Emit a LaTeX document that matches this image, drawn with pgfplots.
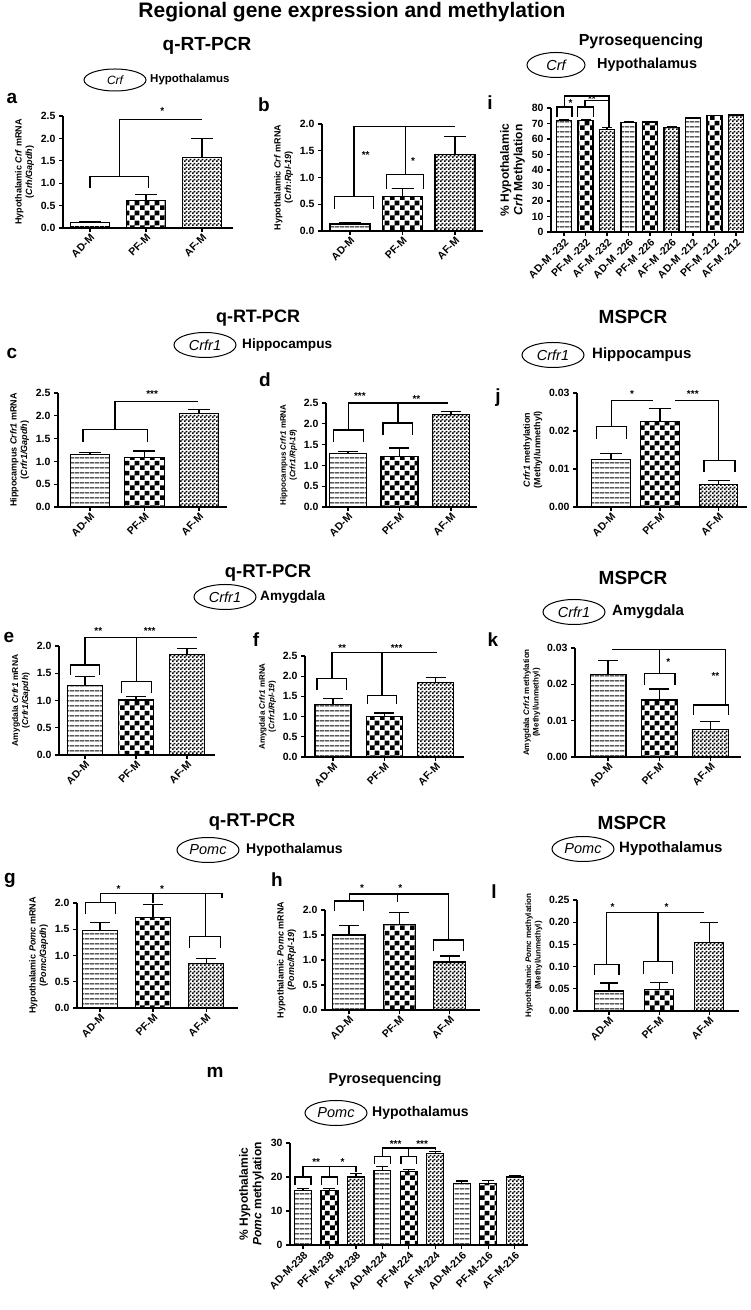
\documentclass[border=0pt]{standalone}
\usepackage{fontspec}
\setmainfont{Liberation Sans}
\usepackage{pgfplots}
\pgfplotsset{compat=1.18}
\usetikzlibrary{patterns,shapes.geometric}

\pgfdeclarepatternformonly{hlines}{\pgfqpoint{0pt}{0pt}}{\pgfqpoint{5pt}{4.6pt}}{\pgfqpoint{5pt}{4.6pt}}{\pgfpathrectangle{\pgfqpoint{0pt}{1.7pt}}{\pgfqpoint{5pt}{1.2pt}}\pgfusepath{fill}}
\pgfdeclarepatternformonly{bigcheck}{\pgfqpoint{0pt}{0pt}}{\pgfqpoint{10pt}{10pt}}{\pgfqpoint{10pt}{10pt}}{\pgfpathrectangle{\pgfqpoint{0pt}{0pt}}{\pgfqpoint{5pt}{5pt}}\pgfpathrectangle{\pgfqpoint{5pt}{5pt}}{\pgfqpoint{5pt}{5pt}}\pgfusepath{fill}}
\pgfdeclarepatternformonly{smallcheck}{\pgfqpoint{0pt}{0pt}}{\pgfqpoint{4pt}{4pt}}{\pgfqpoint{4pt}{4pt}}{\pgfpathrectangle{\pgfqpoint{0pt}{0pt}}{\pgfqpoint{2pt}{2pt}}\pgfpathrectangle{\pgfqpoint{2pt}{2pt}}{\pgfqpoint{2pt}{2pt}}\pgfusepath{fill}}

\newcommand{\xtf}{\bfseries\fontsize{10.5}{11}\selectfont}
\newcommand{\ytf}{\bfseries\fontsize{10.5}{11}\selectfont}
\newcommand{\ylf}{\bfseries\fontsize{9}{10.5}\selectfont}
\newcommand{\ylbig}{\bfseries\fontsize{12}{13.5}\selectfont}

\pgfplotsset{
 gp/.style={scale only axis, anchor=south west, axis x line*=bottom, axis y line*=left,
   ymin=0, clip=false, tick align=outside, major tick length=4pt,
   axis line style={line width=1.2pt}, every tick/.append style={line width=1.2pt, black},
   /pgf/number format/assume math mode=true,
   xticklabel style={rotate=45, anchor=north east, inner sep=1pt, font=\xtf},
   yticklabel style={font=\ytf},
   ylabel style={align=center, font=\ylf}},
 p1/.style={yticklabel style={/pgf/number format/fixed, /pgf/number format/fixed zerofill, /pgf/number format/precision=1}},
 p2/.style={yticklabel style={/pgf/number format/fixed, /pgf/number format/fixed zerofill, /pgf/number format/precision=2}},
 bars/.style={ybar, bar shift=0pt, draw=black, line width=1.2pt,
   error bars/y dir=plus, error bars/y explicit,
   error bars/error bar style={line width=1.2pt, black},
   error bars/error mark options={rotate=90, line width=1.2pt, mark size=#1, black}},
 AD/.style={pattern=hlines, bars=#1},
 PF/.style={pattern=bigcheck, bars=#1},
 AF/.style={pattern=smallcheck, bars=#1},
}
\tikzset{bk/.style={line width=1.2pt}}
\newcommand{\brk}[4]{\draw[bk] (axis cs:#1,#4) |- (axis cs:#2,#3) -- (axis cs:#2,#4);}
\newcommand{\st}[3]{\node[font=\bfseries\fontsize{10}{10}\selectfont, inner sep=0pt] at (axis cs:#1,#2) {#3};}

\begin{document}
\begin{tikzpicture}[x=1pt,y=1pt]
\path[use as bounding box, fill=white] (0pt,0pt) rectangle (751pt,1310pt);
\tikzset{
 hd/.style={font=\bfseries\fontsize{19}{20}\selectfont, inner sep=0pt},
 lb/.style={font=\bfseries\fontsize{14.5}{15}\selectfont, inner sep=0pt, anchor=west},
 el/.style={draw, ellipse, line width=1pt, minimum width=62pt, minimum height=25pt, inner sep=0pt, font=\itshape\fontsize{14.5}{15}\selectfont},
 pl/.style={font=\bfseries\fontsize{19}{20}\selectfont, inner sep=0pt}}
% headers
\node[font=\bfseries\fontsize{21}{22}\selectfont] at (352pt,1298pt) {Regional gene expression and methylation};
\node[hd] at (207pt,1264pt) {q-RT-PCR};
\node[hd, font=\bfseries\fontsize{16}{17}\selectfont] at (641pt,1269pt) {Pyrosequencing};
\node[el, minimum width=62pt, minimum height=22pt, font=\itshape\fontsize{12}{13}\selectfont] at (115pt,1230pt) {Crf};
\node[lb, font=\bfseries\fontsize{11.5}{12}\selectfont] at (150pt,1230pt) {Hypothalamus};
\node[el, minimum width=58pt] at (556pt,1245pt) {Crf};
\node[lb] at (597pt,1245pt) {Hypothalamus};
\node[pl] at (12pt,1212pt) {a};
\node[pl] at (264pt,1205pt) {b};
\node[pl] at (490pt,1207pt) {i};

\node[hd, font=\bfseries\fontsize{18}{19}\selectfont] at (258pt,992pt) {q-RT-PCR};
\node[el] at (205pt,965pt) {Crfr1};
\node[lb, font=\bfseries\fontsize{13.6}{14}\selectfont] at (242pt,965pt) {Hippocampus};
\node[hd] at (633pt,993pt) {MSPCR};
\node[el] at (553pt,955pt) {Crfr1};
\node[lb, font=\bfseries\fontsize{15}{16}\selectfont] at (592pt,955pt) {Hippocampus};
\node[pl] at (12pt,957pt) {c};
\node[pl] at (265pt,930pt) {d};
\node[pl] at (498pt,912pt) {j};

\node[hd, font=\bfseries\fontsize{18.5}{19}\selectfont] at (268pt,737pt) {q-RT-PCR};
\node[el] at (225pt,713pt) {Crfr1};
\node[lb, font=\bfseries\fontsize{13.6}{14}\selectfont] at (260pt,713pt) {Amygdala};
\node[hd] at (633pt,732pt) {MSPCR};
\node[el] at (574pt,698pt) {Crfr1};
\node[lb, font=\bfseries\fontsize{15}{16}\selectfont] at (612pt,698pt) {Amygdala};
\node[pl] at (9pt,673pt) {e};
\node[pl] at (256pt,670pt) {f};
\node[pl] at (493pt,670pt) {k};

\node[hd, font=\bfseries\fontsize{18.5}{19}\selectfont] at (252pt,488pt) {q-RT-PCR};
\node[el] at (208pt,460pt) {Pomc};
\node[lb, font=\bfseries\fontsize{14}{15}\selectfont] at (246pt,460pt) {Hypothalamus};
\node[hd] at (632pt,487pt) {MSPCR};
\node[el] at (583pt,461pt) {Pomc};
\node[lb, font=\bfseries\fontsize{15}{16}\selectfont] at (619pt,461pt) {Hypothalamus};
\node[pl] at (10pt,430pt) {g};
\node[pl] at (277pt,430pt) {h};
\node[pl] at (494pt,418pt) {l};

\node[hd, font=\bfseries\fontsize{14.5}{15}\selectfont] at (385pt,230pt) {Pyrosequencing};
\node[el] at (336pt,197pt) {Pomc};
\node[lb, font=\bfseries\fontsize{14}{15}\selectfont] at (372pt,197pt) {Hypothalamus};
\node[pl] at (215pt,238pt) {m};

% ---------- a ----------
\begin{axis}[gp, p1, at={(63pt,1082pt)}, width=170pt, height=112pt,
  xmin=-0.482, xmax=2.554, ymax=2.5, ytick={0,0.5,1,1.5,2,2.5},
  xtick={0,1,2}, xticklabels={AD-M,PF-M,AF-M}, bar width=0.71,
  ylabel={Hypothalamic \textit{Crf} mRNA\\(\textit{Crh/Gapdh})}]
\addplot[AD=11pt] coordinates {(0,0.12) +- (0,0.02)};
\addplot[PF=11pt] coordinates {(1,0.61) +- (0,0.13)};
\addplot[AF=11pt] coordinates {(2,1.57) +- (0,0.42)};
\brk{0}{1.05}{1.15}{0.9}
\draw[bk] (axis cs:0.52,1.15) |- (axis cs:2.0,2.42);
\st{1.29}{2.6}{*}
\end{axis}

% ---------- b ----------
\begin{axis}[gp, p1, at={(322pt,1079pt)}, width=161pt, height=107pt,
  xmin=-0.533, xmax=2.533, ymax=2.0, ytick={0,0.5,1,1.5,2},
  xtick={0,1,2}, xticklabels={AD-M,PF-M,AF-M}, bar width=0.76,
  ylabel={Hypothalamic \textit{Crf} mRNA\\(\textit{Crh}:\textit{Rpl-19})}]
\addplot[AD=11pt] coordinates {(0,0.13) +- (0,0.02)};
\addplot[PF=11pt] coordinates {(1,0.65) +- (0,0.15)};
\addplot[AF=11pt] coordinates {(2,1.43) +- (0,0.34)};
\brk{-0.3}{0.45}{0.65}{0.42}
\draw[bk] (axis cs:0.075,0.65) |- (axis cs:2.0,1.95);
\brk{0.7}{1.4}{1.05}{0.78}
\draw[bk] (axis cs:1.05,1.05) -- (axis cs:1.05,1.95);
\st{0.3}{1.42}{**}
\st{1.2}{1.3}{*}
\end{axis}

% ---------- i ----------
\begin{axis}[gp, at={(551pt,1078pt)}, width=192pt, height=124pt,
  xmin=-0.605, xmax=8.325, ymax=80, ytick={0,10,20,30,40,50,60,70,80},
  xtick={0,1,2,3,4,5,6,7,8},
  xticklabels={AD-M -232,PF-M -232,AF-M -232,AD-M -226,PF-M -226,AF-M -226,AD-M -212,PF-M -212,AF-M -212},
  bar width=0.7, ylabel style={font=\ylbig},
  ylabel={\% Hypothalamic\\\textit{Crh} Methylation}]
\addplot[AD=5pt] coordinates {(0,72) +- (0,0.4)};
\addplot[PF=5pt] coordinates {(1,72) +- (0,0.5)};
\addplot[AF=5pt] coordinates {(2,66) +- (0,1.5)};
\addplot[AD=5pt] coordinates {(3,70.5) +- (0,0.4)};
\addplot[PF=5pt] coordinates {(4,71) +- (0,0.4)};
\addplot[AF=5pt] coordinates {(5,67.5) +- (0,0.3)};
\addplot[AD=5pt] coordinates {(6,73.5) +- (0,0.4)};
\addplot[PF=5pt] coordinates {(7,75) +- (0,0.4)};
\addplot[AF=5pt] coordinates {(8,75.5) +- (0,0.3)};
\brk{-0.33}{0.375}{80.6}{74.2}
\draw[bk] (axis cs:0.03,80.6) -- (axis cs:0.03,87.7) -- (axis cs:2.09,87.7) -- (axis cs:2.09,68);
\brk{0.61}{1.36}{80.6}{74.2}
\draw[bk] (axis cs:0.98,80.6) -- (axis cs:0.98,84.9) -- (axis cs:2.09,84.9);
\st{0.3}{83.2}{*}
\st{1.3}{86.0}{**}
\end{axis}

% ---------- c ----------
\begin{axis}[gp, p1, at={(58pt,803pt)}, width=169pt, height=114pt,
  xmin=-0.587, xmax=2.514, ymax=2.5, ytick={0,0.5,1,1.5,2,2.5},
  xtick={0,1,2}, xticklabels={AD-M,PF-M,AF-M}, bar width=0.72,
  ylabel={Hippocampus \textit{Crfr1} mRNA\\(\textit{Crfr1/Gapdh})}]
\addplot[AD=11pt] coordinates {(0,1.15) +- (0,0.04)};
\addplot[PF=11pt] coordinates {(1,1.08) +- (0,0.15)};
\addplot[AF=11pt] coordinates {(2,2.05) +- (0,0.09)};
\brk{-0.13}{1.05}{1.70}{1.43}
\draw[bk] (axis cs:0.46,1.70) |- (axis cs:1.98,2.32);
\st{1.14}{2.48}{***}
\end{axis}

% ---------- d ----------
\begin{axis}[gp, p1, at={(326pt,803pt)}, width=151pt, height=104pt,
  xmin=-0.427, xmax=2.505, ymax=2.5, ytick={0,0.5,1,1.5,2,2.5},
  xtick={0,1,2}, xticklabels={AD-M,PF-M,AF-M}, bar width=0.72,
  ylabel style={font=\bfseries\fontsize{8}{9.5}\selectfont},
  ylabel={Hippocampus \textit{Crfr1} mRNA\\(\textit{Crfr1/Rpl-19})}]
\addplot[AD=10pt] coordinates {(0,1.28) +- (0,0.05)};
\addplot[PF=10pt] coordinates {(1,1.22) +- (0,0.2)};
\addplot[AF=10pt] coordinates {(2,2.22) +- (0,0.08)};
\brk{-0.28}{0.3}{1.85}{1.57}
\brk{0.68}{1.26}{2.02}{1.73}
\draw[bk] (axis cs:0.01,1.85) |- (axis cs:1.95,2.5);
\draw[bk] (axis cs:0.97,2.02) -- (axis cs:0.97,2.5);
\st{0.23}{2.66}{***}
\st{1.33}{2.6}{**}
\end{axis}

% ---------- j ----------
\begin{axis}[gp, p2, at={(577pt,803pt)}, width=170pt, height=114pt,
  xmin=-0.694, xmax=2.776, ymax=0.03, ytick={0,0.01,0.02,0.03},
  scaled y ticks=false,
  xtick={0,1,2.2}, xticklabels={AD-M,PF-M,AF-M}, bar width=0.78,
  ylabel={\textit{Crfr1} methylation\\(Methyl/unmethyl)}]
\addplot[AD=11pt] coordinates {(0,0.0125) +- (0,0.0015)};
\addplot[PF=11pt] coordinates {(1,0.0225) +- (0,0.0035)};
\addplot[AF=11pt] coordinates {(2.2,0.006) +- (0,0.001)};
\brk{-0.29}{0.31}{0.0211}{0.018}
\draw[bk] (axis cs:0.01,0.0211) |- (axis cs:0.86,0.0281);
\draw[bk] (axis cs:1.31,0.0281) -| (axis cs:2.2,0.0123);
\brk{1.9}{2.53}{0.0123}{0.0092}
\st{0.43}{0.0298}{*}
\st{1.67}{0.0298}{***}
\end{axis}

% ---------- e ----------
\begin{axis}[gp, p1, at={(59pt,555pt)}, width=156pt, height=109pt,
  xmin=-0.51, xmax=2.55, ymax=2.0, ytick={0,0.5,1,1.5,2},
  xtick={0,1,2}, xticklabels={AD-M,PF-M,AF-M}, bar width=0.7,
  ylabel style={font=\bfseries\fontsize{8.5}{10}\selectfont},
  ylabel={Amygdala \textit{Crfr1} mRNA\\(\textit{Crfr1/Gapdh})}]
\addplot[AD=10pt] coordinates {(0,1.28) +- (0,0.16)};
\addplot[PF=10pt] coordinates {(1,1.01) +- (0,0.07)};
\addplot[AF=10pt] coordinates {(2,1.85) +- (0,0.11)};
\brk{-0.29}{0.28}{1.65}{1.47}
\brk{0.72}{1.31}{1.35}{1.13}
\draw[bk] (axis cs:0,1.65) |- (axis cs:2.19,2.16);
\draw[bk] (axis cs:1.01,1.35) -- (axis cs:1.01,2.16);
\st{0.26}{2.28}{**}
\st{1.27}{2.28}{***}
\end{axis}

% ---------- f ----------
\begin{axis}[gp, p1, at={(305pt,553pt)}, width=159pt, height=101pt,
  xmin=-0.544, xmax=2.55, ymax=2.5, ytick={0,0.5,1,1.5,2,2.5},
  xtick={0,1,2}, xticklabels={AD-M,PF-M,AF-M}, bar width=0.7,
  ylabel style={font=\bfseries\fontsize{8}{9.5}\selectfont},
  ylabel={Amygdala \textit{Crfr1} mRNA\\(\textit{Crfr1/Rpl-19})}]
\addplot[AD=10pt] coordinates {(0,1.29) +- (0,0.16)};
\addplot[PF=10pt] coordinates {(1,1.01) +- (0,0.08)};
\addplot[AF=10pt] coordinates {(2,1.85) +- (0,0.11)};
\brk{-0.31}{0.27}{1.94}{1.65}
\brk{0.67}{1.24}{1.53}{1.3}
\draw[bk] (axis cs:-0.02,1.94) |- (axis cs:2.02,2.58);
\draw[bk] (axis cs:0.955,1.53) -- (axis cs:0.955,2.58);
\st{0.18}{2.7}{**}
\st{1.24}{2.7}{***}
\end{axis}

% ---------- k ----------
\begin{axis}[gp, p2, at={(575pt,553pt)}, width=166pt, height=109pt,
  xmin=-0.647, xmax=2.6, ymax=0.03, ytick={0,0.01,0.02,0.03},
  scaled y ticks=false,
  xtick={0,1,2}, xticklabels={AD-M,PF-M,AF-M}, bar width=0.7,
  ylabel style={font=\bfseries\fontsize{8}{9.5}\selectfont},
  ylabel={Amygdala \textit{Crfr1} methylation\\(Methyl/unmethyl)}]
\addplot[AD=10pt] coordinates {(0,0.0227) +- (0,0.0038)};
\addplot[PF=10pt] coordinates {(1,0.0157) +- (0,0.003)};
\addplot[AF=10pt] coordinates {(2,0.0075) +- (0,0.0022)};
\draw[bk] (axis cs:0.07,0.0295) -- (axis cs:2.3,0.0295) -- (axis cs:2.3,0.0143);
\brk{0.72}{1.31}{0.023}{0.0198}
\draw[bk] (axis cs:1.0,0.023) -- (axis cs:1.0,0.0295);
\brk{1.67}{2.36}{0.0143}{0.0115}
\st{1.18}{0.026}{*}
\st{2.1}{0.0222}{**}
\end{axis}

% ---------- g ----------
\begin{axis}[gp, p1, at={(77pt,302pt)}, width=161pt, height=105pt,
  xmin=-0.434, xmax=2.6, ymax=2.0, ytick={0,0.5,1,1.5,2},
  xtick={0,1,2}, xticklabels={AD-M,PF-M,AF-M}, bar width=0.66,
  ylabel={Hypothalamic \textit{Pomc} mRNA\\(\textit{Pomc/Gapdh})}]
\addplot[AD=10pt] coordinates {(0,1.47) +- (0,0.16)};
\addplot[PF=10pt] coordinates {(1,1.73) +- (0,0.24)};
\addplot[AF=10pt] coordinates {(2,0.85) +- (0,0.1)};
\brk{-0.28}{0.29}{2.01}{1.79}
\draw[bk] (axis cs:0.005,2.01) |- (axis cs:2.3,2.18) -- (axis cs:2.3,2.1);
\draw[bk] (axis cs:1,2.18) -- (axis cs:1,2.0);
\brk{1.69}{2.27}{1.36}{1.14}
\draw[bk] (axis cs:1.98,1.36) -- (axis cs:1.98,2.18);
\st{0.35}{2.27}{*}
\st{1.17}{2.27}{*}
\end{axis}

% ---------- h ----------
\begin{axis}[gp, p1, at={(325pt,300pt)}, width=155pt, height=100pt,
  xmin=-0.475, xmax=2.6, ymax=2.0, ytick={0,0.5,1,1.5,2},
  xtick={0,1,2}, xticklabels={AD-M,PF-M,AF-M}, bar width=0.64,
  ylabel={Hypothalamic \textit{Pomc} mRNA\\(\textit{Pomc/Rpl-19})}]
\addplot[AD=10pt] coordinates {(0,1.5) +- (0,0.19)};
\addplot[PF=10pt] coordinates {(1,1.71) +- (0,0.24)};
\addplot[AF=10pt] coordinates {(2,0.96) +- (0,0.12)};
\brk{-0.28}{0.29}{2.18}{1.97}
\draw[bk] (axis cs:0.005,2.18) |- (axis cs:1.975,2.32) -- (axis cs:1.975,1.4);
\brk{1.68}{2.27}{1.4}{1.17}
\draw[bk] (axis cs:0.97,2.32) -- (axis cs:0.97,2.15);
\st{0.26}{2.44}{*}
\st{1.02}{2.44}{*}
\end{axis}

% ---------- l ----------
\begin{axis}[gp, p2, at={(577pt,299pt)}, width=162pt, height=111pt,
  xmin=-0.64, xmax=2.6, ymax=0.25, ytick={0,0.05,0.1,0.15,0.2,0.25},
  scaled y ticks=false,
  xtick={0,1,2}, xticklabels={AD-M,PF-M,AF-M}, bar width=0.58,
  ylabel style={font=\bfseries\fontsize{8}{9.5}\selectfont},
  ylabel={Hypothalamic \textit{Pomc} methylation\\(Methyl/unmethyl)}]
\addplot[AD=9pt] coordinates {(0,0.045) +- (0,0.018)};
\addplot[PF=9pt] coordinates {(1,0.048) +- (0,0.016)};
\addplot[AF=9pt] coordinates {(2,0.155) +- (0,0.045)};
\brk{-0.29}{0.2}{0.104}{0.082}
\brk{0.68}{1.27}{0.112}{0.084}
\draw[bk] (axis cs:-0.045,0.104) |- (axis cs:1.89,0.222);
\draw[bk] (axis cs:0.975,0.112) -- (axis cs:0.975,0.222);
\st{0.07}{0.233}{*}
\st{1.15}{0.233}{*}
\end{axis}

% ---------- m ----------
\begin{axis}[gp, at={(290pt,65pt)}, width=238pt, height=102pt,
  xmin=-0.49, xmax=8.5, ymax=30, ytick={0,10,20,30},
  xtick={0,1,2,3,4,5,6,7,8},
  xticklabels={AD-M-238,PF-M-238,AF-M-238,AD-M-224,PF-M-224,AF-M-224,AD-M-216,PF-M-216,AF-M-216},
  bar width=0.64, ylabel style={font=\ylbig},
  ylabel={\% Hypothalamic\\\textit{Pomc} methylation}]
\addplot[AD=6pt] coordinates {(0,16) +- (0,0.5)};
\addplot[PF=6pt] coordinates {(1,16) +- (0,0.6)};
\addplot[AF=6pt] coordinates {(2,20) +- (0,1)};
\addplot[AD=6pt] coordinates {(3,22) +- (0,1)};
\addplot[PF=6pt] coordinates {(4,21.5) +- (0,0.6)};
\addplot[AF=6pt] coordinates {(5,27) +- (0,0.6)};
\addplot[AD=6pt] coordinates {(6,18) +- (0,0.8)};
\addplot[PF=6pt] coordinates {(7,18) +- (0,1)};
\addplot[AF=6pt] coordinates {(8,20) +- (0,0.5)};
\brk{-0.3}{0.3}{20}{17.5}
\brk{0.7}{1.3}{20}{17.5}
\draw[bk] (axis cs:0,20) |- (axis cs:2,23) -- (axis cs:2,21.5);
\draw[bk] (axis cs:1,20) -- (axis cs:1,23);
\st{0.5}{24.3}{**}
\st{1.5}{24.3}{*}
\brk{2.7}{3.3}{26}{23.7}
\brk{3.7}{4.3}{26}{23.7}
\draw[bk] (axis cs:3,26) |- (axis cs:5,28.5) -- (axis cs:5,28);
\draw[bk] (axis cs:4,26) -- (axis cs:4,28.5);
\st{3.5}{29.6}{***}
\st{4.5}{29.6}{***}
\end{axis}
\end{tikzpicture}
\end{document}
